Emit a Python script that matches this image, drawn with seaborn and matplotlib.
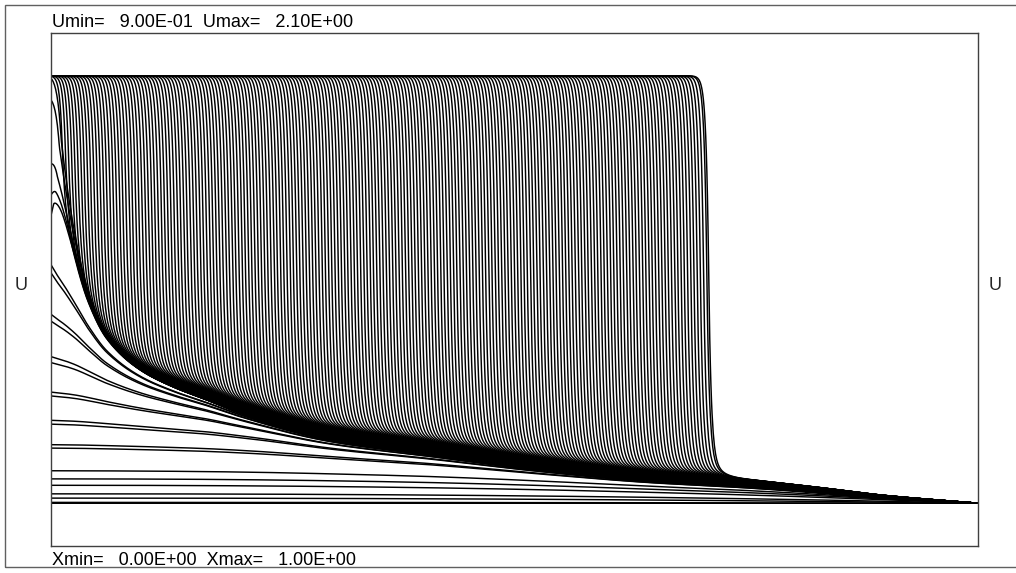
import numpy as np
import pandas as pd
import matplotlib
matplotlib.use("Agg")
import matplotlib.pyplot as plt
import seaborn as sns
from matplotlib.patches import Rectangle

# ---- data -------------------------------------------------------------
# Left-boundary values of the early, rising profiles (no front yet)
ramp_left_u = [1.000, 1.002, 1.012, 1.022, 1.042, 1.057, 1.076, 1.129, 1.137,
               1.185, 1.194, 1.251, 1.260, 1.329, 1.343, 1.426, 1.442, 1.539, 1.558]

# First profiles that develop a front: plateau level and front centre
early_front_level = [1.673, 1.721, 1.794, 1.943, 1.994]
early_front_x = [0.003, 0.005, 0.007, 0.009, 0.011]

# Front centres of the profiles with the full plateau U = 2
plateau_u = 2.0
front_x = [
    0.0120, 0.0155, 0.0189, 0.0224, 0.0258, 0.0293, 0.0328, 0.0362, 0.0397, 0.0431,
    0.0466, 0.0501, 0.0535, 0.0570, 0.0604, 0.0639, 0.0674, 0.0708, 0.0743, 0.0777,
    0.0812, 0.0847, 0.0881, 0.0916, 0.0950, 0.0985, 0.1020, 0.1054, 0.1089, 0.1123,
    0.1158, 0.1193, 0.1227, 0.1262, 0.1296, 0.1331, 0.1366, 0.1400, 0.1435, 0.1469,
    0.1504, 0.1539, 0.1573, 0.1608, 0.1642, 0.1677, 0.1712, 0.1746, 0.1781, 0.1815,
    0.1850, 0.1885, 0.1919, 0.1954, 0.1988, 0.2023, 0.2058, 0.2092, 0.2127, 0.2161,
    0.2196, 0.2231, 0.2265, 0.2300, 0.2334, 0.2369, 0.2404, 0.2438, 0.2473, 0.2507,
    0.2542, 0.2577, 0.2611, 0.2646, 0.2680, 0.2715, 0.2750, 0.2784, 0.2819, 0.2853,
    0.2888, 0.2923, 0.2957, 0.2992, 0.3026, 0.3061, 0.3096, 0.3130, 0.3165, 0.3199,
    0.3234, 0.3269, 0.3303, 0.3338, 0.3372, 0.3407, 0.3442, 0.3476, 0.3511, 0.3545,
    0.3580, 0.3615, 0.3649, 0.3684, 0.3718, 0.3753, 0.3788, 0.3822, 0.3857, 0.3891,
    0.3926, 0.3961, 0.3995, 0.4030, 0.4064, 0.4099, 0.4134, 0.4168, 0.4203, 0.4237,
    0.4272, 0.4307, 0.4341, 0.4376, 0.4410, 0.4445, 0.4480, 0.4514, 0.4549, 0.4583,
    0.4618, 0.4653, 0.4687, 0.4722, 0.4756, 0.4791, 0.4826, 0.4860, 0.4895, 0.4929,
    0.4964, 0.4999, 0.5033, 0.5068, 0.5102, 0.5137, 0.5172, 0.5206, 0.5241, 0.5275,
    0.5310, 0.5345, 0.5379, 0.5414, 0.5448, 0.5483, 0.5518, 0.5552, 0.5587, 0.5621,
    0.5656, 0.5691, 0.5725, 0.5760, 0.5794, 0.5829, 0.5864, 0.5898, 0.5933, 0.5967,
    0.6002, 0.6037, 0.6071, 0.6106, 0.6140, 0.6175, 0.6210, 0.6244, 0.6279, 0.6313,
    0.6348, 0.6383, 0.6417, 0.6452, 0.6486, 0.6521, 0.6556, 0.6590, 0.6625, 0.6659,
    0.6694, 0.6729, 0.6763, 0.6798, 0.6832, 0.6867, 0.6902, 0.6936, 0.6971, 0.7005,
    0.7040, 0.7075, 0.7095,
]

# Lowest tail ahead of the fronts (lower edge of the bundle)
tail_x = [0.0, 0.005, 0.012, 0.024, 0.040, 0.060, 0.096, 0.132, 0.168, 0.204,
          0.300, 0.410, 0.520, 0.646, 0.740, 0.826, 0.897, 1.0]
tail_u = [1.800, 1.740, 1.680, 1.580, 1.470, 1.385, 1.312, 1.272, 1.242, 1.211,
          1.150, 1.114, 1.080, 1.052, 1.040, 1.026, 1.013, 1.000]

u_min, u_max = 0.9, 2.1
x_min, x_max = 0.0, 1.0


# ---- helpers ------------------------------------------------------------
def pchip(xk, yk, x):
    xk = np.asarray(xk, float)
    yk = np.asarray(yk, float)
    h = np.diff(xk)
    d = np.diff(yk) / h
    m = np.zeros_like(yk)
    for i in range(1, len(xk) - 1):
        if d[i - 1] * d[i] > 0:
            w1 = 2 * h[i] + h[i - 1]
            w2 = h[i] + 2 * h[i - 1]
            m[i] = (w1 + w2) / (w1 / d[i - 1] + w2 / d[i])
    m[0], m[-1] = d[0], d[-1]
    idx = np.clip(np.searchsorted(xk, x, side="right") - 1, 0, len(h) - 1)
    t = (x - xk[idx]) / h[idx]
    h00 = 2 * t**3 - 3 * t**2 + 1
    h10 = t**3 - 2 * t**2 + t
    h01 = -2 * t**3 + 3 * t**2
    h11 = t**3 - t**2
    return (h00 * yk[idx] + h10 * h[idx] * m[idx]
            + h01 * yk[idx + 1] + h11 * h[idx] * m[idx + 1])


def front_step(z, wt=0.0027, w1=0.0027, w2=0.0097, a=0.12):
    """Sharp shoulder behind the front (z > 0), long foot ahead of it."""
    top = 1.0 - 0.5 * np.exp(-np.clip(z, 0, None) / wt)
    zn = np.clip(z, None, 0)
    foot = 0.5 * ((1 - a) * np.exp(zn / w1) + a * np.exp(zn / w2))
    return np.where(z >= 0, top, foot)


def soft_lower(a, b, n=4.0):
    a = np.maximum(a, 1e-12)
    b = np.maximum(b, 1e-12)
    return (a**-n + b**-n) ** (-1.0 / n)


# ---- build the profile table ---------------------------------------------
xs = np.linspace(x_min, x_max, 1601)
tail = pchip(tail_x, tail_u, xs)

frames = []
cid = 0
for ul in ramp_left_u:
    rise = (ul - 1.0) * (1.0 - xs**2.3)
    du = soft_lower(rise, tail - 1.0, n=3.0)
    du = du + (ul - 1.0 - du[0]) * np.exp(-xs / 0.03)
    du[-1] = 0.0
    frames.append(pd.DataFrame({"x": xs, "U": 1.0 + du, "curve": cid}))
    cid += 1

for lev, xf in zip(early_front_level, early_front_x):
    s = front_step(xf - xs, wt=0.005, w1=0.009, w2=0.02, a=0.3)
    s = s / s[0]
    u = tail + (lev - tail) * s
    frames.append(pd.DataFrame({"x": xs, "U": u, "curve": cid}))
    cid += 1

n_front = len(front_x)
for k, xf in enumerate(front_x):
    lift = 1.0 + 0.45 * k / (n_front - 1)  # later tails sit slightly higher
    tail_k = 1.0 + (tail - 1.0) * lift
    s = front_step(xf - xs)
    u = tail_k + (plateau_u - tail_k) * s
    frames.append(pd.DataFrame({"x": xs, "U": u, "curve": cid}))
    cid += 1

profiles = pd.concat(frames, ignore_index=True)

# ---- figure -------------------------------------------------------------
sns.set_theme(style="white")
plt.rcParams["font.family"] = ["Liberation Sans", "DejaVu Sans"]

W, H = 1016, 573
fig = plt.figure(figsize=(W / 100, H / 100), dpi=100)
ax = fig.add_axes([51 / W, (H - 546) / H, 927 / W, 513 / H])

sns.lineplot(data=profiles, x="x", y="U", units="curve", estimator=None,
             color="black", linewidth=1.05, sort=False, legend=False, ax=ax)

ax.set_xlim(x_min, x_max)
ax.set_ylim(u_min, u_max)
ax.set_xticks([])
ax.set_yticks([])
ax.set_xlabel("")
ax.set_ylabel("")
for sp in ax.spines.values():
    sp.set_visible(True)
    sp.set_color("#404040")
    sp.set_linewidth(1.0)

# outer frame of the plot window
fig.add_artist(Rectangle((5 / W, 6 / H), 1.2, 562 / H, transform=fig.transFigure,
                         fill=False, ec="#606060", lw=1.0, clip_on=False))

fs = 13
fig.text(52 / W, (H - 27) / H, f"Umin=   {u_min:.2E}  Umax=   {u_max:.2E}",
         fontsize=fs, va="baseline", ha="left", color="black")
fig.text(52 / W, (H - 565) / H, f"Xmin=   {x_min:.2E}  Xmax=   {x_max:.2E}",
         fontsize=fs, va="baseline", ha="left", color="black")
fig.text(15 / W, (H - 290) / H, "U", fontsize=fs, va="baseline", ha="left")
fig.text(989 / W, (H - 290) / H, "U", fontsize=fs, va="baseline", ha="left")

fig.savefig("out.png", dpi=100, facecolor="white")
